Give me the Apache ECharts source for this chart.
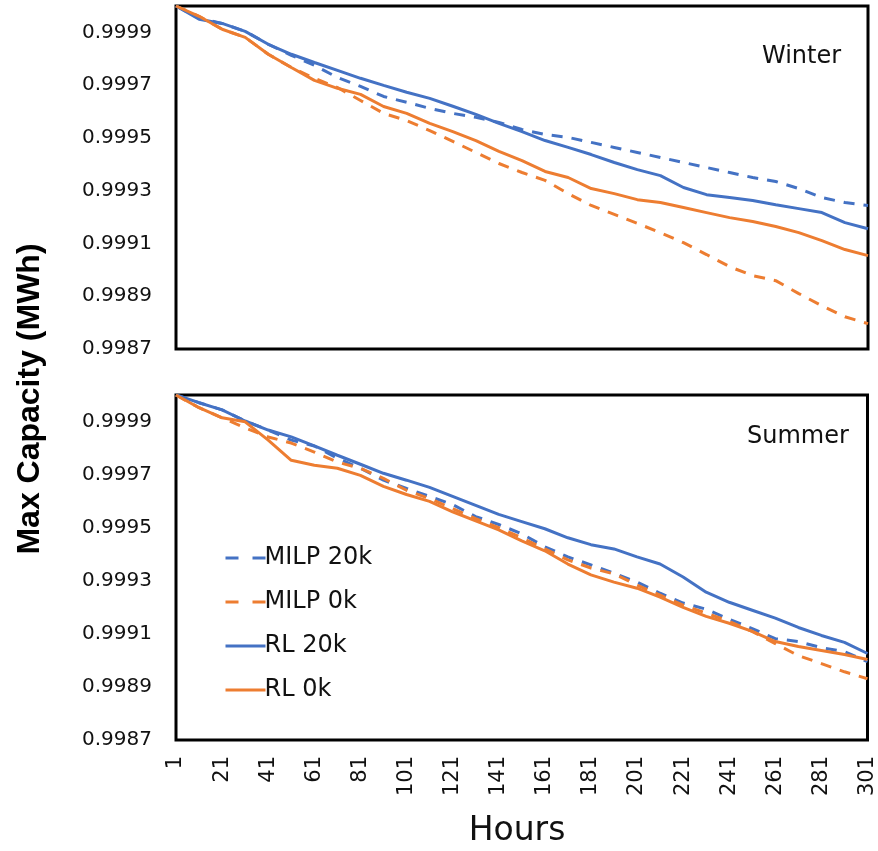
<!DOCTYPE html>
<html>
<head>
<meta charset="utf-8">
<script src="https://cdn.jsdelivr.net/npm/echarts@6/dist/echarts.min.js"></script>
<style>
html,body{margin:0;padding:0;background:#fff;}
#chart{width:878px;height:851px;}
</style>
</head>
<body>
<div id="chart"></div>
<script>
// Sample hours (x values)
const hours = [1,11,21,31,41,51,61,71,81,91,101,111,121,131,141,151,161,171,181,191,201,211,221,231,241,251,261,271,281,291,301];
const categories = Array.from({length:301}, (_, i) => String(i + 1));

// Winter panel
const winterMilp20k = [1.0000,0.999953,0.999934,0.999904,0.999855,0.999813,0.999775,0.999729,0.999695,0.999657,0.999635,0.999612,0.999593,0.999578,0.999559,0.999532,0.999513,0.999502,0.999483,0.999464,0.999445,0.999426,0.999407,0.999388,0.999369,0.999350,0.999335,0.999308,0.999274,0.999255,0.999244];
const winterMilp0k  = [1.0000,0.999961,0.999912,0.999881,0.999817,0.999767,0.999726,0.999691,0.999642,0.999593,0.999566,0.999528,0.999487,0.999445,0.999403,0.999369,0.999339,0.999289,0.999244,0.999210,0.999176,0.999141,0.999103,0.999058,0.999012,0.998978,0.998959,0.998910,0.998864,0.998822,0.998796];
const winterRl20k   = [1.0000,0.999950,0.999934,0.999904,0.999855,0.999817,0.999786,0.999756,0.999726,0.999699,0.999673,0.999650,0.999620,0.999589,0.999555,0.999524,0.999490,0.999464,0.999437,0.999407,0.999380,0.999357,0.999312,0.999285,0.999274,0.999263,0.999247,0.999232,0.999217,0.999179,0.999156];
const winterRl0k    = [1.0000,0.999961,0.999912,0.999881,0.999817,0.999767,0.999718,0.999688,0.999665,0.999619,0.999593,0.999555,0.999524,0.999490,0.999449,0.999414,0.999373,0.999350,0.999308,0.999289,0.999266,0.999255,0.999236,0.999217,0.999198,0.999183,0.999164,0.999141,0.999111,0.999077,0.999054];

// Summer panel
const summerMilp20k = [1.0000,0.999971,0.999944,0.999902,0.999868,0.999830,0.999808,0.999762,0.999724,0.999679,0.999648,0.999618,0.999587,0.999542,0.999512,0.999477,0.999428,0.999390,0.999360,0.999329,0.999295,0.999253,0.999216,0.999193,0.999155,0.999120,0.999082,0.999071,0.999048,0.999033,0.998995];
const summerMilp0k  = [1.0000,0.999952,0.999914,0.999876,0.999842,0.999819,0.999785,0.999747,0.999724,0.999686,0.999641,0.999610,0.999572,0.999534,0.999500,0.999462,0.999420,0.999379,0.999348,0.999326,0.999284,0.999246,0.999208,0.999178,0.999147,0.999109,0.999063,0.999018,0.998988,0.998957,0.998931];
const summerRl20k   = [1.0000,0.999971,0.999944,0.999902,0.999868,0.999842,0.999808,0.999773,0.999739,0.999705,0.999679,0.999652,0.999618,0.999584,0.999550,0.999523,0.999496,0.999462,0.999436,0.999420,0.999390,0.999363,0.999314,0.999257,0.999219,0.999189,0.999159,0.999124,0.999094,0.999068,0.999026];
const summerRl0k    = [1.0000,0.999952,0.999914,0.999899,0.999830,0.999754,0.999735,0.999724,0.999697,0.999656,0.999625,0.999599,0.999560,0.999526,0.999492,0.999450,0.999413,0.999363,0.999322,0.999295,0.999272,0.999238,0.999200,0.999166,0.999140,0.999109,0.999071,0.999052,0.999037,0.999022,0.999003];

const seriesNames = ['MILP 20k', 'MILP 0k', 'RL 20k', 'RL 0k'];
const yMin = 0.9987, yMax = 1.0000, yStep = 0.0001;

const BLUE = '#4472C4', ORANGE = '#ED7D31';
const styles = {
  'MILP 20k': {color: BLUE, type: [11, 9]},
  'MILP 0k': {color: ORANGE, type: [11, 9]},
  'RL 20k': {color: BLUE, type: 'solid'},
  'RL 0k': {color: ORANGE, type: 'solid'}
};

function toPairs(vals){ return hours.map((h, i) => [h - 1, vals[i]]); }

function mkSeries(name, vals, gi){
  const s = styles[name];
  return {
    name: name, type: 'line', xAxisIndex: gi, yAxisIndex: gi,
    data: toPairs(vals), symbol: 'none', showSymbol: false,
    lineStyle: {color: s.color, width: 3, type: s.type},
    itemStyle: {color: s.color},
    emphasis: {disabled: true}, animation: false
  };
}

const tickFont = 'DejaVu Sans';
function yAxisCfg(gi){
  return {
    type: 'value', gridIndex: gi, min: yMin, max: yMax, interval: yStep,
    axisLine: {show: false}, axisTick: {show: false}, splitLine: {show: false},
    axisLabel: {
      margin: 24, fontSize: 20, fontFamily: tickFont, color: '#111',
      formatter: function(v){
        const k = Math.round(v * 10000);
        return (k % 2 === 1 && k < 10000) ? (k / 10000).toFixed(4) : '';
      }
    }
  };
}
function xAxisCfg(gi, showLabels){
  return {
    type: 'category', gridIndex: gi, data: categories, boundaryGap: false,
    axisLine: {show: false}, axisTick: {show: false}, splitLine: {show: false},
    axisLabel: {
      show: showLabels, interval: 19, rotate: 90, margin: 16,
      fontSize: 21, fontFamily: tickFont, color: '#111'
    }
  };
}

function legendItem(name){
  const dashed = styles[name].type !== 'solid';
  return {name: name, lineStyle: {width: 3, type: dashed ? [13, 14] : 'solid'}};
}

const chart = echarts.init(document.getElementById('chart'), null, {renderer: 'canvas'});
chart.setOption({
  backgroundColor: '#fff',
  animation: false,
  grid: [
    {left: 176, top: 6, width: 692, height: 343, show: true, borderColor: '#000', borderWidth: 3, backgroundColor: 'transparent'},
    {left: 176, top: 395, width: 692, height: 345, show: true, borderColor: '#000', borderWidth: 3, backgroundColor: 'transparent'}
  ],
  xAxis: [xAxisCfg(0, false), xAxisCfg(1, true)],
  yAxis: [yAxisCfg(0), yAxisCfg(1)],
  legend: {
    data: seriesNames.map(legendItem), orient: 'vertical', left: 219, top: 541,
    itemWidth: 40, itemHeight: 14, itemGap: 20,
    itemStyle: {opacity: 0, borderWidth: 0},
    lineStyle: {width: 3},
    textStyle: {fontSize: 24, fontFamily: tickFont, color: '#111', padding: [0, 0, 0, -6]},
    selectedMode: false
  },
  series: [
    mkSeries('MILP 20k', winterMilp20k, 0),
    mkSeries('MILP 0k', winterMilp0k, 0),
    mkSeries('RL 20k', winterRl20k, 0),
    mkSeries('RL 0k', winterRl0k, 0),
    mkSeries('MILP 20k', summerMilp20k, 1),
    mkSeries('MILP 0k', summerMilp0k, 1),
    mkSeries('RL 20k', summerRl20k, 1),
    mkSeries('RL 0k', summerRl0k, 1)
  ],
  graphic: [
    {type: 'text', left: 762, top: 45, style: {text: 'Winter', font: '24px "DejaVu Sans"', fill: '#111'}},
    {type: 'text', left: 747, top: 425, style: {text: 'Summer', font: '24px "DejaVu Sans"', fill: '#111'}},
    {type: 'text', x: 517, y: 831, style: {text: 'Hours', font: '33px "DejaVu Sans"', fill: '#111', align: 'center', verticalAlign: 'middle'}},
    {type: 'text', x: 30, y: 399, rotation: Math.PI / 2, style: {text: 'Max Capacity (MWh)', font: 'bold 32px "Liberation Sans"', fill: '#000', align: 'center', verticalAlign: 'middle'}}
  ]
});
</script>
</body>
</html>
